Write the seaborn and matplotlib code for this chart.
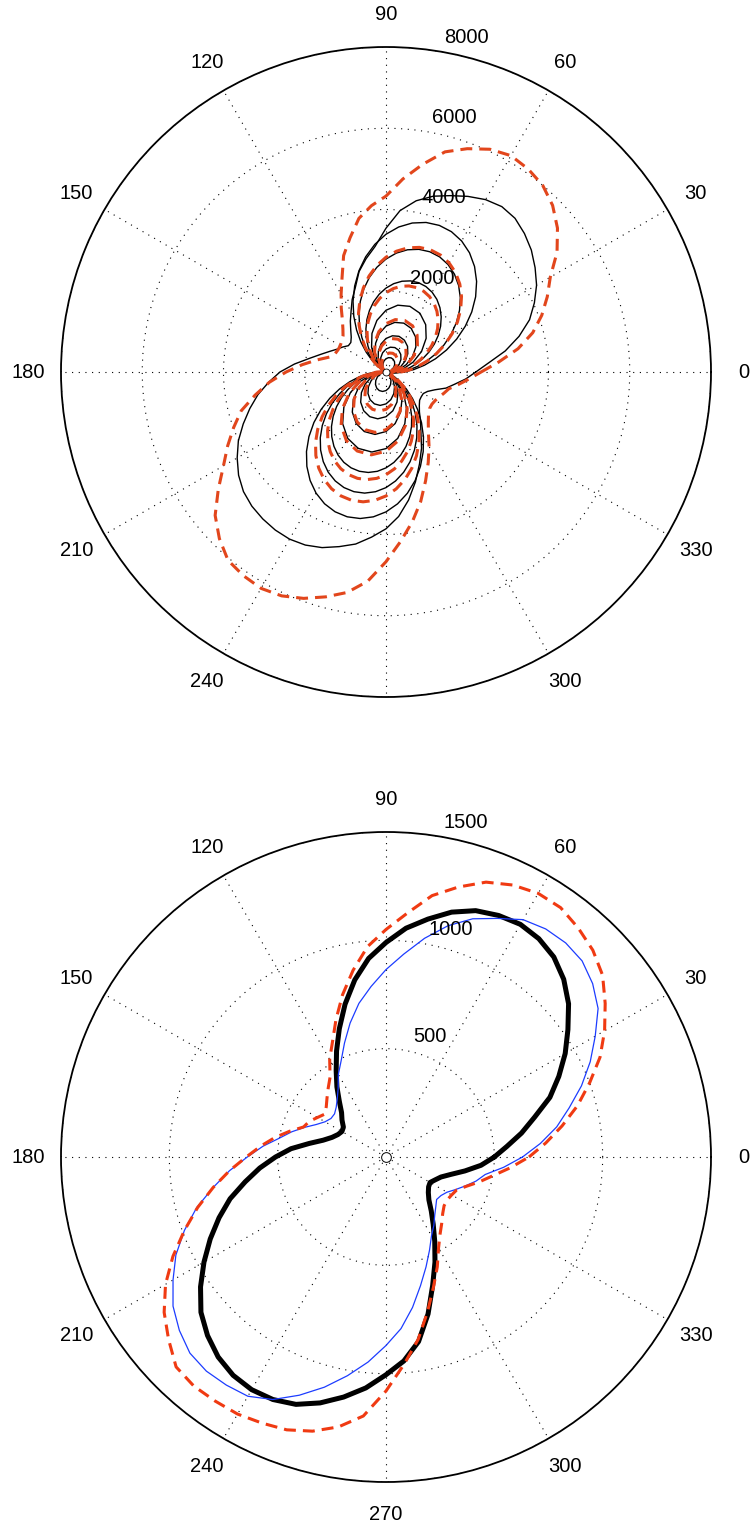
import numpy as np
import matplotlib
matplotlib.use("Agg")
import matplotlib.pyplot as plt
import seaborn as sns

# ---------------- data ----------------
THETA_5 = list(range(0, 360, 5))     # degrees, fine sampling
THETA_10 = list(range(0, 360, 10))   # degrees, coarse sampling (small inner curves)

# top panel (values in data units)
TOP_RTICKS = [2000, 4000, 6000, 8000]
TOP_RED_OUTER = [2340, 2780, 3300, 3740, 4080, 4380, 4670, 5140, 5510, 5800, 6000, 6100,
                 6150, 6050, 5850, 5610, 5190, 4770, 4330, 4110, 3840, 3420, 3050, 2560,
                 2210, 1920, 1670, 1500, 1380, 1330, 1300, 1300, 1330, 1430, 1720, 2070,
                 2460, 2880, 3270, 3690, 3990, 4300, 4620, 5040, 5490, 5800, 6050, 6120,
                 6150, 6080, 5930, 5730, 5510, 5170, 4670, 4180, 3740, 3300, 2850, 2460,
                 2120, 1820, 1620, 1480, 1400, 1380, 1400, 1450, 1520, 1600, 1800, 2040]
TOP_BLACK_OUTER = [2210, 2530, 2980, 3390, 3760, 4030, 4280, 4480, 4670, 4820, 4940, 4970,
                   4900, 4770, 4620, 4480, 4280, 3990, 3540, 3100, 2830, 2560, 2210, 1970,
                   1720, 1530, 1350, 1210, 1130, 1130, 1230, 1330, 1480, 1670, 1920, 2260,
                   2610, 2900, 3200, 3470, 3740, 4010, 4230, 4430, 4580, 4670, 4720, 4750,
                   4750, 4700, 4600, 4450, 4300, 4080, 3860, 3570, 3200, 2800, 2410, 2070,
                   1720, 1480, 1280, 1160, 1080, 1060, 1060, 1130, 1280, 1530, 1720, 1970]
# inner black curves
B1 = [450, 687, 960, 1263, 1586, 1920, 2254, 2577, 2880, 3154, 3391, 3583, 3724, 3811, 3840,
      3811, 3724, 3583, 3391, 3154, 2880, 2577, 2254, 1920, 1586, 1263, 960, 687, 450, 257, 115,
      40, 30, 30, 40, 111, 247, 432, 661, 923, 1214, 1524, 1845, 2166, 2476, 2768, 3031, 3258,
      3443, 3579, 3662, 3690, 3662, 3579, 3443, 3258, 3031, 2768, 2476, 2166, 1845, 1524, 1214,
      923, 661, 432, 247, 111, 40, 30, 115, 257]
B2 = [369, 564, 788, 1036, 1301, 1575, 1849, 2114, 2363, 2587, 2781, 2939, 3055, 3126, 3150,
      3126, 3055, 2939, 2781, 2587, 2363, 2114, 1849, 1575, 1301, 1036, 788, 564, 369, 211, 95,
      30, 25, 25, 30, 92, 204, 357, 546, 763, 1003, 1260, 1525, 1790, 2047, 2288, 2505, 2693,
      2846, 2958, 3027, 3050, 3027, 2958, 2846, 2693, 2505, 2288, 2047, 1790, 1525, 1260, 1003,
      763, 546, 357, 204, 92, 30, 25, 95, 211]
B3 = [274, 419, 585, 770, 966, 1170, 1374, 1570, 1755, 1922, 2066, 2183, 2269, 2322, 2340,
      2322, 2269, 2183, 2066, 1922, 1755, 1570, 1374, 1170, 966, 770, 585, 419, 274, 157, 70,
      22, 18, 18, 22, 76, 170, 296, 453, 633, 832, 1045, 1265, 1485, 1698, 1898, 2078, 2234,
      2360, 2454, 2511, 2530, 2511, 2454, 2360, 2234, 2078, 1898, 1698, 1485, 1265, 1045, 832,
      633, 453, 296, 170, 76, 22, 18, 70, 157]
B4 = [200, 430, 710, 1010, 1290, 1520, 1670, 1720, 1670, 1520, 1290, 1010, 710, 430, 200, 50, 20, 30,
      135, 360, 665, 1010, 1355, 1660, 1885, 2000, 2000, 1885, 1660, 1355, 1010, 665, 360, 135, 30, 50]
B5 = [150, 320, 530, 750, 960, 1130, 1240, 1280, 1240, 1130, 960, 750, 530, 320, 150, 40, 15, 25,
      105, 280, 520, 785, 1050, 1290, 1465, 1560, 1560, 1465, 1290, 1050, 785, 520, 280, 105, 25, 40]
B6 = [110, 235, 385, 550, 700, 825, 905, 935, 905, 825, 700, 550, 385, 235, 110, 28, 10, 18,
      80, 210, 390, 590, 790, 970, 1100, 1170, 1170, 1100, 970, 790, 590, 390, 210, 80, 18, 28]
B7 = [75, 160, 265, 375, 480, 565, 620, 640, 620, 565, 480, 375, 265, 160, 75, 20, 8, 13,
      56, 150, 275, 420, 565, 690, 785, 835, 835, 785, 690, 565, 420, 275, 150, 56, 13, 20]
B8 = [43, 93, 153, 217, 278, 327, 359, 370, 359, 327, 278, 217, 153, 93, 43, 11, 4, 7,
      33, 88, 161, 245, 329, 402, 457, 486, 486, 457, 402, 329, 245, 161, 88, 33, 7, 11]
# inner red dashed curves
R1 = [374, 573, 800, 1053, 1322, 1600, 1878, 2147, 2400, 2628, 2826, 2986, 3103, 3176, 3200,
      3176, 3103, 2986, 2826, 2628, 2400, 2147, 1878, 1600, 1322, 1053, 800, 573, 374, 214, 96,
      30, 25, 25, 30, 98, 219, 383, 585, 818, 1076, 1351, 1635, 1919, 2194, 2453, 2686, 2887,
      3051, 3171, 3245, 3270, 3245, 3171, 3051, 2887, 2686, 2453, 2194, 1919, 1635, 1351, 1076,
      818, 585, 383, 219, 98, 30, 25, 96, 214]
R2 = [259, 396, 553, 727, 913, 1105, 1297, 1483, 1658, 1815, 1951, 2062, 2143, 2193, 2210,
      2193, 2143, 2062, 1951, 1815, 1658, 1483, 1297, 1105, 913, 727, 553, 396, 259, 148, 66,
      20, 17, 17, 21, 81, 182, 317, 485, 678, 892, 1119, 1355, 1591, 1818, 2033, 2226, 2393,
      2528, 2628, 2689, 2710, 2689, 2628, 2528, 2393, 2226, 2033, 1818, 1591, 1355, 1119, 892,
      678, 485, 317, 182, 81, 21, 17, 66, 148]
R3 = [160, 340, 560, 790, 1010, 1190, 1310, 1350, 1310, 1190, 1010, 790, 560, 340, 160, 40, 15, 30,
      140, 375, 690, 1045, 1400, 1720, 1950, 2070, 2070, 1950, 1720, 1400, 1045, 690, 375, 140, 30, 40]
R4 = [100, 215, 355, 505, 645, 760, 835, 860, 835, 760, 645, 505, 355, 215, 100, 26, 9, 23,
      100, 275, 500, 760, 1020, 1250, 1420, 1510, 1510, 1420, 1250, 1020, 760, 500, 275, 100, 23, 26]
R5 = [57, 123, 202, 288, 368, 433, 475, 490, 475, 433, 368, 288, 202, 123, 57, 15, 5, 15,
      66, 176, 324, 493, 661, 809, 919, 977, 977, 919, 809, 661, 493, 324, 176, 66, 15, 15]

# bottom panel
BOT_RTICKS = [500, 1000, 1500]
BOT_BLACK = [500, 560, 635, 710, 805, 880, 955, 1025, 1100, 1160, 1205, 1230,
             1240, 1230, 1210, 1170, 1115, 1060, 990, 920, 830, 730, 630, 540,
             460, 395, 335, 290, 265, 240, 235, 245, 265, 300, 360, 440,
             510, 585, 660, 745, 820, 895, 970, 1045, 1115, 1165, 1205, 1230,
             1240, 1235, 1215, 1175, 1125, 1070, 1005, 945, 865, 750, 630, 535,
             450, 380, 325, 280, 255, 240, 235, 250, 270, 310, 370, 440]
BOT_BLUE = [630, 715, 800, 875, 960, 1040, 1115, 1195, 1245, 1280, 1290, 1285,
            1265, 1215, 1170, 1105, 1025, 940, 865, 790, 720, 640, 560, 490,
            440, 385, 350, 325, 310, 310, 325, 355, 400, 450, 500, 570,
            640, 725, 810, 905, 990, 1070, 1135, 1200, 1245, 1280, 1290, 1285,
            1275, 1235, 1170, 1100, 1025, 950, 870, 795, 705, 615, 540, 475,
            420, 385, 350, 325, 305, 310, 325, 355, 390, 430, 465, 545]
BOT_RED = [660, 740, 825, 915, 1000, 1090, 1165, 1235, 1305, 1350, 1380, 1405,
           1405, 1385, 1350, 1290, 1225, 1130, 1050, 975, 875, 775, 675, 585,
           520, 450, 415, 385, 360, 345, 365, 390, 405, 460, 520, 580,
           645, 725, 810, 900, 990, 1085, 1175, 1250, 1310, 1370, 1380, 1375,
           1370, 1355, 1340, 1310, 1265, 1200, 1080, 960, 855, 740, 640, 560,
           485, 435, 400, 370, 350, 345, 350, 360, 395, 445, 500, 575]

ANGLE_TICKS = list(range(0, 360, 30))

# ---------------- style ----------------
sns.set_style("white")
plt.rcParams["font.family"] = ["Liberation Sans", "DejaVu Sans"]
FS = 14.5
RED_TOP = "#e2461c"
RED_BOT = "#f03a12"
BLUE = "#1c3cff"
DASH = (0, (3.9, 2.3))

fig = plt.figure(figsize=(7.5, 15.3), dpi=100)
ax_top = fig.add_axes([0.08133, 0.54444, 0.86667, 0.42484], projection="polar")
ax_bot = fig.add_axes([0.08133, 0.03137, 0.86667, 0.42484], projection="polar")


def draw(ax, theta_deg, vals, **kw):
    th = np.deg2rad(list(theta_deg) + [360])
    rr = list(vals) + [vals[0]]
    sns.lineplot(x=th, y=rr, sort=False, estimator=None, ax=ax, **kw)


def setup(ax, rticks, show_270=True):
    rmax = rticks[-1]
    ax.set_ylim(0, rmax)
    ax.set_yticks(rticks)
    ax.set_yticklabels([])
    ax.set_xticks(np.deg2rad(ANGLE_TICKS))
    ax.set_xticklabels([])
    ax.tick_params(length=0)
    ax.grid(True, color="black", linestyle=(0, (1, 5)), linewidth=0.8)
    ax.spines["polar"].set_color("black")
    ax.spines["polar"].set_linewidth(1.3)
    ax.set_xlabel("")
    ax.set_ylabel("")
    for a in ANGLE_TICKS:
        if a == 270 and not show_270:
            continue
        ax.text(np.deg2rad(a), 1.1 * rmax, str(a), ha="center", va="center",
                fontsize=FS, color="black", clip_on=False)
    for t in rticks:
        ax.annotate(str(t), xy=(np.deg2rad(82), t), xytext=(9, 5.5),
                    textcoords="offset points", ha="left", va="baseline",
                    fontsize=FS, color="black", annotation_clip=False)


# ---------------- top panel ----------------
for th, vals in [(THETA_5, TOP_BLACK_OUTER), (THETA_5, B1), (THETA_5, B2), (THETA_5, B3),
                 (THETA_10, B4), (THETA_10, B5), (THETA_10, B6), (THETA_10, B7), (THETA_10, B8)]:
    draw(ax_top, th, vals, color="black", linewidth=1.0)
for th, vals in [(THETA_5, TOP_RED_OUTER), (THETA_5, R1), (THETA_5, R2),
                 (THETA_10, R3), (THETA_10, R4), (THETA_10, R5)]:
    draw(ax_top, th, vals, color=RED_TOP, linewidth=2.2, linestyle=DASH)
ax_top.plot([0], [0], marker="o", markersize=5, markerfacecolor="white",
            markeredgecolor="black", markeredgewidth=0.6)
setup(ax_top, TOP_RTICKS, show_270=False)

# ---------------- bottom panel ----------------
draw(ax_bot, THETA_5, BOT_BLACK, color="black", linewidth=3.6)
draw(ax_bot, THETA_5, BOT_BLUE, color=BLUE, linewidth=0.9)
draw(ax_bot, THETA_5, BOT_RED, color=RED_BOT, linewidth=2.2, linestyle=DASH)
ax_bot.plot([0], [0], marker="o", markersize=7, markerfacecolor="white",
            markeredgecolor="black", markeredgewidth=0.7)
setup(ax_bot, BOT_RTICKS, show_270=True)

fig.savefig("out.png", dpi=100, facecolor="white")
